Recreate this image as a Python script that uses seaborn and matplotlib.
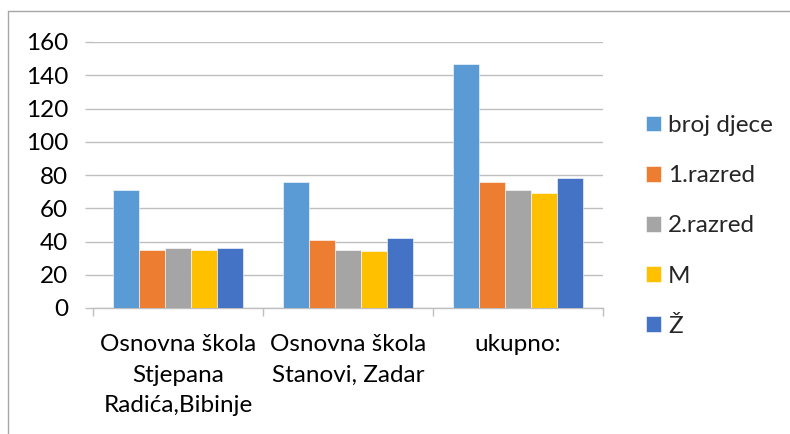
import matplotlib
matplotlib.use("Agg")
import matplotlib.pyplot as plt
import seaborn as sns
import pandas as pd
from matplotlib.lines import Line2D

categories = ["Osnovna škola\nStjepana\nRadića,Bibinje", "Osnovna škola\nStanovi, Zadar", "ukupno:"]
series = ["broj djece", "1.razred", "2.razred", "M", "Ž"]
broj_djece = [71, 76, 147]
razred1 = [35, 41, 76]
razred2 = [36, 35, 71]
m_vals = [35, 34, 69]
z_vals = [36, 42, 78]
yticks = [0, 20, 40, 60, 80, 100, 120, 140, 160]
colors = ["#5B9BD5", "#ED7D31", "#A5A5A5", "#FFC000", "#4472C4"]

values = [broj_djece, razred1, razred2, m_vals, z_vals]
rows = []
for s, vals in zip(series, values):
    for c, v in zip(categories, vals):
        rows.append({"cat": c, "series": s, "val": v})
df = pd.DataFrame(rows)

sns.set_theme(style="white")
plt.rcParams["font.family"] = ["Lato", "DejaVu Sans"]

W, H = 790, 434
fig = plt.figure(figsize=(W / 100, H / 100), dpi=100)
L, R, T, B = 93, 603, 42, 308
ax = fig.add_axes([L / W, 1 - B / H, (R - L) / W, (B - T) / H])

sns.barplot(data=df, x="cat", y="val", hue="series", hue_order=series,
            order=categories, palette=colors, saturation=1, width=0.77, ax=ax,
            edgecolor="white", linewidth=0.4, errorbar=None, zorder=3)

ax.set_ylim(0, 160)
ax.set_xlim(-0.5, 2.5)
ax.set_yticks(yticks)
ax.set_xlabel("")
ax.set_ylabel("")
ax.yaxis.grid(True, color="#BFBFBF", linewidth=1.0, zorder=0)
ax.set_axisbelow(True)
for side in ["top", "right", "left"]:
    ax.spines[side].set_visible(False)
ax.spines["bottom"].set_color("#BFBFBF")
ax.spines["bottom"].set_linewidth(1.0)

FS = 17.5
ax.tick_params(axis="y", length=6, color="#BFBFBF", width=1.0, pad=12,
               labelsize=FS, labelcolor="black", left=True)
ax.set_xticks([-0.5, 0.5, 1.5, 2.5], minor=False)
ax.set_xticklabels([])
ax.tick_params(axis="x", which="major", length=6, color="#BFBFBF", width=1.0, bottom=True)
ax.set_xticks([0, 1, 2], minor=True)
ax.set_xticklabels(categories, minor=True)
ax.tick_params(axis="x", which="minor", length=0, pad=19, labelsize=FS, labelcolor="black")
for lab in ax.get_xticklabels(minor=True):
    lab.set_linespacing(1.55)
    lab.set_va("top")

handles, labels = ax.get_legend_handles_labels()
ax.legend(handles, labels, loc="center left", bbox_to_anchor=(636 / W, 1 - 226 / H),
          bbox_transform=fig.transFigure, frameon=False, fontsize=FS,
          handlelength=0.62, handleheight=0.62, handletextpad=0.3, labelspacing=1.2,
          borderaxespad=0)

border = "#A6A6A6"
fig.add_artist(Line2D([8 / W, 1.0], [1 - 11 / H, 1 - 11 / H], color=border, linewidth=1.0, transform=fig.transFigure))
fig.add_artist(Line2D([8 / W, 8 / W], [0.0, 1 - 11 / H], color=border, linewidth=1.0, transform=fig.transFigure))

fig.savefig("out.png", dpi=100, facecolor="white")
